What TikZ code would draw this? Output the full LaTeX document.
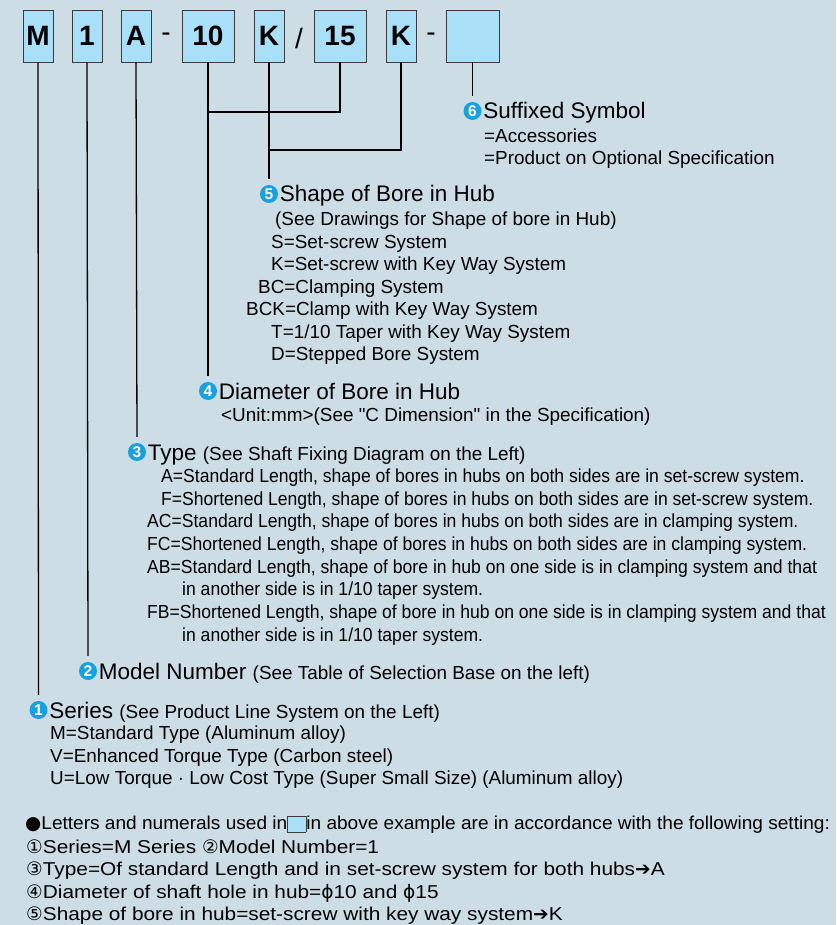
\documentclass[tikz,border=0pt]{standalone}
\usepackage{fontspec}
\setmainfont{Liberation Sans}
\newfontfamily\symfont{DejaVu Sans}
\newfontfamily\typesans[FakeStretch=0.93]{Liberation Sans}
\newfontfamily\notesans[FakeStretch=1.12]{Liberation Sans}
\newfontfamily\leadsans[FakeStretch=1.025]{Liberation Sans}
\usetikzlibrary{positioning}
\definecolor{bgblue}{RGB}{205,221,229}
\definecolor{boxblue}{RGB}{170,223,248}
\definecolor{dotblue}{RGB}{24,160,224}
\definecolor{boxline}{RGB}{60,60,60}
\newcommand{\subsz}{\fontsize{18.9}{20}\selectfont}
\newcommand{\notesz}{\fontsize{18.6}{20}\selectfont}
\newcommand{\inbox}{\raisebox{-2.5pt}{\fcolorbox{boxline}{boxblue}{\rule{0pt}{15.5pt}\rule{17.5pt}{0pt}}}}
\setlength{\fboxsep}{0pt}
\setlength{\fboxrule}{0.8pt}
\tikzset{
  codebox/.style={draw=boxline, fill=boxblue, line width=0.8pt, minimum height=52pt, inner sep=0pt, font=\fontsize{28}{30}\selectfont\bfseries},
  sepmark/.style={inner sep=0pt, font=\fontsize{28}{30}\selectfont},
  link/.style={line width=1.3pt},
  lead/.style={link, shorten >=6pt},
  numdot/.style={circle, fill=dotblue, text=white, minimum size=18pt, inner sep=0pt, font=\fontsize{15.5}{15.5}\selectfont\bfseries},
  head/.style={anchor=west, inner sep=0pt, text height=16pt, text depth=0pt, font=\fontsize{22.5}{24}\selectfont},
  item/.style={anchor=west, inner sep=0pt, text height=13pt, text depth=0pt, font=\subsz},
  typeitem/.style={item, font=\typesans\subsz},
  noteitem/.style={item, font=\notesans\notesz},
}

\begin{document}
\begin{tikzpicture}[x=1pt, y=-1pt]

  \fill [bgblue] (0, 0) rectangle (836, 925);
  \useasboundingbox (0, 0) rectangle (836, 925);

  % code boxes
  \node [codebox, minimum width=30pt] (bM) at (38, 36) {M};
  \node [codebox, minimum width=30pt] (b1) at (87, 36) {1};
  \node [codebox, minimum width=30pt] (bA) at (136, 36) {A};
  \node [sepmark] (d1) at (166, 37) {-};
  \node [codebox, minimum width=52pt] (b10) at (208, 36) {10};
  \node [codebox, minimum width=30pt] (bK1) at (269, 36) {K};
  \node [sepmark] (sl) at (299, 38) {/};
  \node [codebox, minimum width=52pt] (b15) at (340, 36) {15};
  \node [codebox, minimum width=30pt] (bK2) at (401, 36) {K};
  \node [sepmark] (d2) at (431, 37) {-};
  \node [codebox, minimum width=53pt] (bX) at (472.5, 36) {};

  % 6
  \node [numdot] (n6) at (472.5, 111) {6};
  \node [head, right=1.5pt of n6] (t6) {Suffixed Symbol};
  \node [item] (s6a) at (484, 136) {=Accessories};
  \node [item] (s6b) at (484, 158) {=Product on Optional Specification};

  % 5
  \node [numdot] (n5) at (269, 194) {5};
  \node [head, right=1.5pt of n5] (t5) {Shape of Bore in Hub};
  \node [item] (s5a) at (275, 219) {(See Drawings for Shape of bore in Hub)};
  \node [item] (s5b) at (271, 242) {S=Set-screw System};
  \node [item] (s5c) at (271, 264) {K=Set-screw with Key Way System};
  \node [item] (s5d) at (258, 287) {BC=Clamping System};
  \node [item] (s5e) at (246, 309) {BCK=Clamp with Key Way System};
  \node [item] (s5f) at (271, 332) {T=1/10 Taper with Key Way System};
  \node [item] (s5g) at (271, 354) {D=Stepped Bore System};

  % 4
  \node [numdot] (n4) at (208, 391) {4};
  \node [head, right=1.5pt of n4] (t4) {Diameter of Bore in Hub};
  \node [item] (s4a) at (221, 415) {<Unit:mm>(See \textquotedbl C Dimension\textquotedbl{} in the Specification)};

  % 3
  \node [numdot] (n3) at (137, 452) {3};
  \node [head, right=1.5pt of n3] (t3) {Type {\subsz (See Shaft Fixing Diagram on the Left)}};
  \node [typeitem] (s3a) at (161, 476) {A=Standard Length, shape of bores in hubs on both sides are in set-screw system.};
  \node [typeitem] (s3b) at (161, 499) {F=Shortened Length, shape of bores in hubs on both sides are in set-screw system.};
  \node [typeitem] (s3c) at (147, 521) {AC=Standard Length, shape of bores in hubs on both sides are in clamping system.};
  \node [typeitem] (s3d) at (147, 544) {FC=Shortened Length, shape of bores in hubs on both sides are in clamping system.};
  \node [typeitem] (s3e) at (147, 567) {AB=Standard Length, shape of bore in hub on one side is in clamping system and that};
  \node [typeitem] (s3f) at (182, 589) {in another side is in 1/10 taper system.};
  \node [typeitem] (s3g) at (147, 612) {FB=Shortened Length, shape of bore in hub on one side is in clamping system and that};
  \node [typeitem] (s3h) at (182, 635) {in another side is in 1/10 taper system.};

  % 2
  \node [numdot] (n2) at (88, 671) {2};
  \node [head, right=1.5pt of n2] (t2) {Model Number {\subsz (See Table of Selection Base on the left)}};

  % 1
  \node [numdot] (n1) at (38.5, 710) {1};
  \node [head, right=1.5pt of n1] (t1) {Series {\subsz (See Product Line System on the Left)}};
  \node [item] (s1a) at (50, 733) {M=Standard Type (Aluminum alloy)};
  \node [item] (s1b) at (50, 756) {V=Enhanced Torque Type (Carbon steel)};
  \node [item] (s1c) at (50, 778) {U=Low Torque · Low Cost Type (Super Small Size) (Aluminum alloy)};

  % note
  \node [item, font=\leadsans\notesz] (m0) at (25, 823) {{\symfont ●}Letters and numerals used in\inbox in above example are in accordance with the following setting:};
  \node [noteitem] (m1) at (26, 847) {{\symfont ①}Series=M Series {\symfont ②}Model Number=1};
  \node [noteitem] (m3) at (26, 869) {{\symfont ③}Type=Of standard Length and in set-screw system for both hubs{\symfont ➔}A};
  \node [noteitem] (m4) at (26, 892) {{\symfont ④}Diameter of shaft hole in hub={\symfont ϕ}10 and {\symfont ϕ}15};
  \node [noteitem] (m5) at (26, 914) {{\symfont ⑤}Shape of bore in hub=set-screw with key way system{\symfont ➔}K};

  % leaders
  \draw [lead] (bM.south) -- (n1.north);
  \draw [lead] (b1.south) -- (n2.north);
  \draw [lead] (bA.south) -- (n3.north);
  \coordinate (j4) at (b10.south |- 0, 112);
  \draw [link] (b15.south) |- (j4);
  \draw [lead] (b10.south) -- (n4.north);
  \coordinate (j5) at (bK1.south |- 0, 150);
  \draw [link] (bK2.south) |- (j5);
  \draw [lead] (bK1.south) -- (n5.north);
  \draw [lead] (bX.south) -- (n6.north);

\end{tikzpicture}
\end{document}
